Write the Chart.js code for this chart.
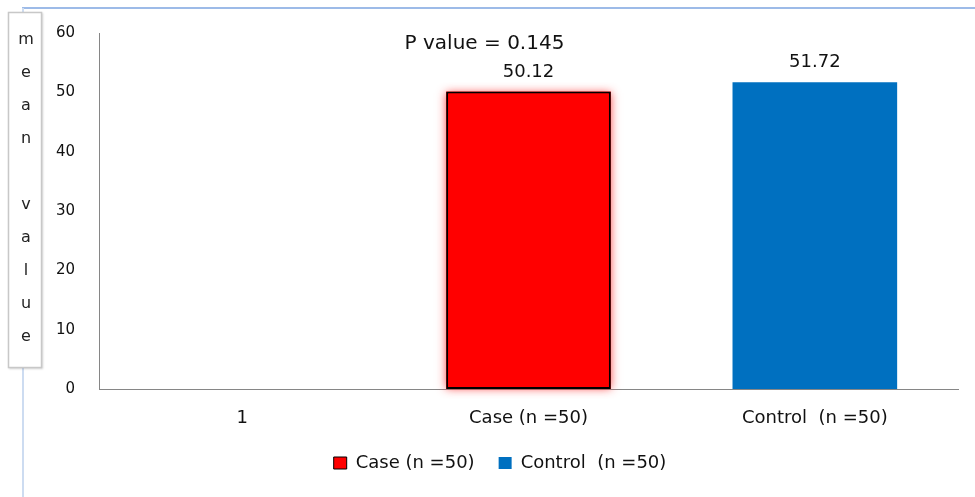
<!DOCTYPE html>
<html>
<head>
<meta charset="utf-8">
<script src="https://cdn.jsdelivr.net/npm/chart.js@4.4.1/dist/chart.umd.min.js"></script>
<style>
  html, body { margin: 0; padding: 0; background: #fff; }
  #wrap { width: 975px; height: 497px; }
</style>
</head>
<body>
<div id="wrap"><canvas id="c" width="975" height="497"></canvas></div>
<script>
// Categories along the x axis
const categories = ['1', 'Case (n =50)', 'Control  (n =50)'];
// Mean value per group (one series per group so each gets its own legend entry)
const caseValues = [null, 50.12, null];
const controlValues = [null, null, 51.72];
const seriesNames = ['Case (n =50)', 'Control  (n =50)'];
// Y axis
const yTicks = [0, 10, 20, 30, 40, 50, 60];
const yTitleLetters = ['m', 'e', 'a', 'n', '', 'v', 'a', 'l', 'u', 'e'];
const pValueText = 'P value = 0.145';

const FONT = "'DejaVu Sans', sans-serif";

// Page frame lines and the boxed vertical axis title
const framePlugin = {
  id: 'frame',
  beforeDraw(chart) {
    const ctx = chart.ctx;
    ctx.save();
    ctx.fillStyle = '#fff';
    ctx.fillRect(0, 0, chart.width, chart.height);
    ctx.strokeStyle = '#9dbbe8';
    ctx.lineWidth = 2;
    ctx.beginPath();
    ctx.moveTo(22, 8);
    ctx.lineTo(chart.width, 8);
    ctx.stroke();
    ctx.strokeStyle = '#cddcf1';
    ctx.beginPath();
    ctx.moveTo(23, 8);
    ctx.lineTo(23, chart.height);
    ctx.stroke();
    ctx.restore();
  },
  afterDraw(chart) {
    const ctx = chart.ctx;
    ctx.save();
    ctx.shadowColor = 'rgba(0,0,0,0.18)';
    ctx.shadowBlur = 2;
    ctx.shadowOffsetX = 1;
    ctx.shadowOffsetY = 1;
    ctx.fillStyle = '#fff';
    ctx.fillRect(8, 12, 34, 356);
    ctx.shadowColor = 'transparent';
    ctx.strokeStyle = '#c8c8c8';
    ctx.lineWidth = 1.5;
    ctx.strokeRect(8.5, 12.5, 33, 355);
    ctx.fillStyle = '#222';
    ctx.font = "16px " + FONT;
    ctx.textAlign = 'center';
    ctx.textBaseline = 'middle';
    yTitleLetters.forEach((ch, i) => {
      if (ch) ctx.fillText(ch, 26, 40 + i * 33);
    });
    ctx.restore();
  }
};

// Soft red glow behind the Case bar, taken from the bar element's own geometry
const glowPlugin = {
  id: 'glow',
  beforeDatasetDraw(chart, args) {
    if (args.index !== 0) return;
    const ctx = chart.ctx;
    args.meta.data.forEach((bar, i) => {
      if (chart.data.datasets[0].data[i] == null) return;
      const { x, y, base, width } = bar.getProps(['x', 'y', 'base', 'width'], true);
      ctx.save();
      ctx.shadowColor = 'rgba(255,60,60,0.9)';
      ctx.shadowBlur = 9;
      ctx.fillStyle = '#ff0000';
      ctx.fillRect(x - width / 2, y, width, base - y);
      ctx.restore();
    });
  }
};

// Value labels above the bars and the p-value note
const labelPlugin = {
  id: 'valueLabels',
  afterDatasetsDraw(chart) {
    const ctx = chart.ctx;
    ctx.save();
    ctx.fillStyle = '#111';
    ctx.textAlign = 'center';
    ctx.textBaseline = 'middle';
    ctx.font = "18px " + FONT;
    chart.data.datasets.forEach((ds, di) => {
      const meta = chart.getDatasetMeta(di);
      meta.data.forEach((bar, i) => {
        const v = ds.data[i];
        if (v === null || v === undefined) return;
        ctx.fillText(v.toFixed(2), bar.x, bar.y - 19.5);
      });
    });
    const xs = chart.scales.x;
    ctx.font = "20px " + FONT;
    ctx.fillText(pValueText, xs.getPixelForValue(1) - 44, 44);
    ctx.restore();
  }
};

new Chart(document.getElementById('c'), {
  type: 'bar',
  data: {
    labels: categories,
    datasets: [
      {
        label: seriesNames[0],
        data: caseValues,
        backgroundColor: '#ff0000',
        borderColor: '#000',
        borderWidth: 2,
        borderSkipped: false
      },
      {
        label: seriesNames[1],
        data: controlValues,
        backgroundColor: '#0070c0',
        borderWidth: 0
      }
    ]
  },
  options: {
    responsive: false,
    animation: false,
    devicePixelRatio: 1,
    datasets: {
      bar: { grouped: false, categoryPercentage: 1, barPercentage: 0.575 }
    },
    layout: { padding: { left: 42, right: 17, top: 30, bottom: 15 } },
    plugins: {
      tooltip: { enabled: false },
      title: { display: false },
      legend: {
        position: 'bottom',
        labels: {
          font: { family: FONT, size: 18 },
          color: '#111',
          boxWidth: 13,
          boxHeight: 12,
          padding: 24,
          generateLabels(chart) {
            const items = Chart.defaults.plugins.legend.labels.generateLabels(chart);
            items.forEach(it => { it.lineWidth = it.datasetIndex === 0 ? 1 : 0; });
            return items;
          }
        }
      }
    },
    scales: {
      x: {
        grid: { display: false, drawTicks: false },
        border: { display: true, color: '#868686', width: 1 },
        ticks: { font: { family: FONT, size: 18 }, color: '#111', padding: 19, maxRotation: 0 },
        afterFit(scale) { scale.height = 41; }
      },
      y: {
        min: 0,
        max: 60,
        afterBuildTicks(scale) { scale.ticks = yTicks.map(v => ({ value: v })); },
        grid: { display: false, drawTicks: false },
        border: { display: true, color: '#868686', width: 1 },
        ticks: { font: { family: FONT, size: 15 }, color: '#111', padding: 24 },
        afterFit(scale) { scale.width = 57; }
      }
    }
  },
  plugins: [framePlugin, glowPlugin, labelPlugin]
});
</script>
</body>
</html>
